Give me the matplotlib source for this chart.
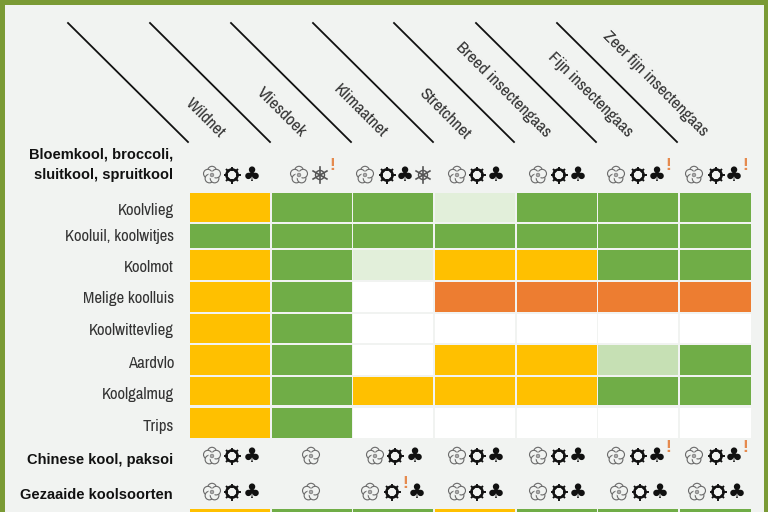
import numpy as np
from matplotlib import font_manager as fm
from matplotlib import pyplot as plt
from matplotlib.patches import Circle, Rectangle

# column and row names
methods = ["Wildnet", "Vliesdoek", "Klimaatnet", "Stretchnet", "Breed insectengaas", "Fijn insectengaas", "Zeer fijn insectengaas"]
pests = ["Koolvlieg", "Kooluil, koolwitjes", "Koolmot", "Melige koolluis", "Koolwittevlieg", "Aardvlo", "Koolgalmug", "Trips"]
crops = ["Bloemkool, broccoli,\nsluitkool, spruitkool", "Chinese kool, paksoi", "Gezaaide koolsoorten"]

# protection class per cell: Y=yellow, G=green, O=orange, P=pale green, M=mid green, W=white
ratings = [
    "YGGPGGG",
    "GGGGGGG",
    "YGPYYGG",
    "YGWOOOO",
    "YGWWWWW",
    "YGWYYMG",
    "YGYYYGG",
    "YGWWWWW",
]
next_ratings = "YGGYGGG"

# crop symbols per column: F=flower, S=sun, C=club, I=ice, !=warning
crop_icons = [
    ["FSC", "FI!", "FSCI", "FSC", "FSC", "FSC!", "FSC!"],
    ["FSC", "F", "FSC", "FSC", "FSC", "FSC!", "FSC!"],
    ["FSC", "F", "FS!C", "FSC", "FSC", "FSC", "FSC"],
]

colors = {"Y": "#ffc000", "G": "#70ad47", "O": "#ed7d31", "P": "#e2efda", "M": "#c6e0b4", "W": "#ffffff"}
BG = "#f1f3f1"
FRAME = "#7a9a35"

# layout in reference pixels
col_edges = [(190, 270), (272, 352), (353, 433), (435, 515), (517, 597), (598, 678), (680, 751)]
row_edges = [(193, 222), (224, 248), (250, 280), (282, 312), (314, 343), (345, 375), (377, 405), (408, 438)]
label_y = [211, 236, 268, 299, 330, 363, 395, 426]
line_starts = [68, 150, 231, 313, 394, 476, 557]
label_anchors = [(205, 118), (281, 112), (360, 111), (444, 114), (503, 90), (590, 95), (655, 84)]
crop_y = [175, 456, 492]
crop_label_y = [165, 460, 495]
icon_x = [
    [[212, 232, 252], [299, 320, 332], [365, 387, 405, 423], [457, 477, 496], [538, 559, 578], [616, 638, 657, 668], [694, 716, 734, 745]],
    [[212, 232, 252], [311], [375, 395, 415], [457, 477, 496], [538, 559, 578], [616, 638, 657, 668], [694, 716, 734, 745]],
    [[212, 232, 252], [311], [370, 392, 405, 417], [457, 477, 496], [538, 559, 578], [619, 640, 660], [697, 718, 737]],
]

installed = {f.name for f in fm.fontManager.ttflist}
NARROW = next((n for n in ["Archivo Narrow", "Pragati Narrow", "PT Sans Narrow"] if n in installed), "Liberation Sans")
SCALE = 1.0 if NARROW != "Liberation Sans" else 0.8


def draw_flower(ax, x, y):
    for a in np.deg2rad(np.arange(90, 450, 72)):
        ax.add_patch(Circle((x + 4.4 * np.cos(a), y - 4.4 * np.sin(a)), 4.3, fc=BG, ec="#6a6a6a", lw=0.8))
    ax.add_patch(Circle((x, y), 3.6, fc=BG, ec="none"))
    ax.add_patch(Circle((x, y), 1.8, fc="#aaaaaa", ec="#777777", lw=0.5))


def draw_sun(ax, x, y):
    for a in np.deg2rad(np.arange(0, 360, 45)):
        ax.plot([x + 5 * np.cos(a), x + 7.5 * np.cos(a)], [y + 5 * np.sin(a), y + 7.5 * np.sin(a)], color="#111111", lw=1.4)
    ax.add_patch(Circle((x, y), 5.6, fc=BG, ec="#111111", lw=1.8))


def draw_ice(ax, x, y):
    for a in np.deg2rad(np.arange(0, 180, 60) + 90):
        ax.plot([x - 8 * np.cos(a), x + 8 * np.cos(a)], [y - 8 * np.sin(a), y + 8 * np.sin(a)], color="#555555", lw=1.2)
    ax.add_patch(Circle((x, y), 4.5, fc="none", ec="#555555", lw=1.0))


def draw_icon(ax, code, x, y):
    if code == "F":
        draw_flower(ax, x, y)
    elif code == "S":
        draw_sun(ax, x, y)
    elif code == "C":
        ax.text(x, y + 0.5, "\u2663", fontsize=14.5, ha="center", va="center", color="#111111", family="DejaVu Sans")
    elif code == "I":
        draw_ice(ax, x, y)
    else:
        ax.text(x, y - 9, "!", fontsize=12.5, ha="center", va="center", color="#e58a4e", family="Liberation Sans", fontweight="bold")


fig = plt.figure(figsize=(7.68, 5.12), dpi=100, facecolor=BG)
ax = fig.add_axes([0, 0, 1, 1])
ax.set_xlim(0, 768)
ax.set_ylim(512, 0)
ax.axis("off")

# frame
ax.add_patch(Rectangle((0, 0), 768, 5, fc=FRAME, ec="none"))
ax.add_patch(Rectangle((0, 0), 5, 512, fc=FRAME, ec="none"))
ax.add_patch(Rectangle((764, 0), 4, 512, fc=FRAME, ec="none"))

# header lines and labels
for start, method, (lx, ly) in zip(line_starts, methods, label_anchors):
    ax.plot([start, start + 120], [23, 142], color="#111111", lw=1.3)
    ax.text(lx, ly, method, rotation=-45, rotation_mode="anchor", ha="center", va="center",
            fontsize=12.5 * SCALE, family=NARROW, color="#333333")

# rating cells
for (y0, y1), row, pest, ly in zip(row_edges, ratings, pests, label_y):
    for (x0, x1), key in zip(col_edges, row):
        ax.add_patch(Rectangle((x0, y0), x1 - x0, y1 - y0, fc=colors[key], ec="none"))
    ax.text(174, ly, pest, ha="right", va="center", fontsize=12 * SCALE, family=NARROW, color="#333333")

for (x0, x1), key in zip(col_edges, next_ratings):
    ax.add_patch(Rectangle((x0, 509), x1 - x0, 4, fc=colors[key], ec="none"))

# crop names and symbols
for crop, y, ly, icons, xs in zip(crops, crop_y, crop_label_y, crop_icons, icon_x):
    ax.text(173, ly, crop, ha="right", va="center", fontsize=10.5, family="Liberation Sans", fontweight="bold",
            color="#111111", linespacing=1.6)
    for codes, positions in zip(icons, xs):
        for code, x in zip(codes, positions):
            draw_icon(ax, code, x, y)

fig.savefig("out.png", dpi=100, facecolor=BG)
